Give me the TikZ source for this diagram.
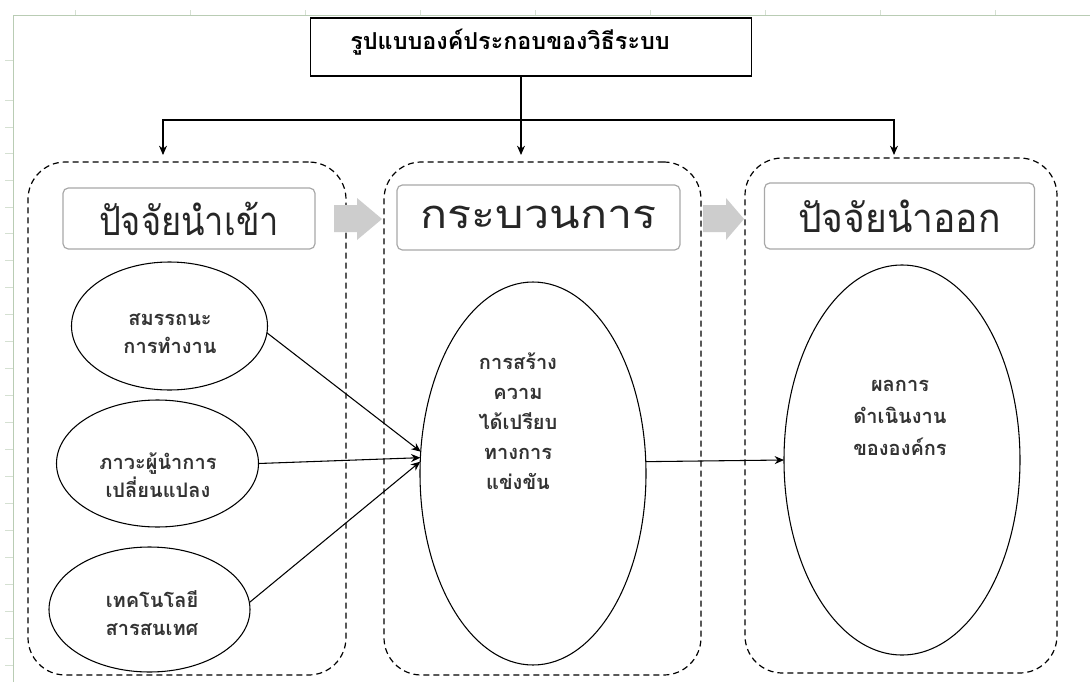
\documentclass[tikz,border=0pt]{standalone}
\usepackage{fontspec}
\newfontfamily\thai[Script=Thai]{Loma}
\usetikzlibrary{shapes.geometric,arrows.meta}
\definecolor{gridc}{HTML}{B9CCB4}
\definecolor{hdrc}{HTML}{A8A8A8}
\definecolor{blockc}{HTML}{CDCDCD}
\definecolor{txtc}{HTML}{333333}
\begin{document}
\begin{tikzpicture}[x=0.75pt,y=-0.75pt,
  every node/.style={font=\thai, inner sep=0pt, outer sep=0pt},
  group/.style={draw, line width=0.9pt, dash pattern=on 4.5pt off 3pt, rounded corners=28pt},
  hdr/.style={draw=hdrc, line width=0.9pt, rounded corners=4pt, text=black!85, font=\thai\fontsize{30}{32}\selectfont},
  oval/.style={draw, ellipse, line width=0.8pt},
  lbl/.style={align=center, text=txtc, font=\thai\bfseries\fontsize{15}{21}\selectfont},
  arr/.style={line width=0.8pt, -{Stealth[length=7pt,width=6pt]}},
  blockarrow/.style={fill=blockc}
]
\useasboundingbox (0,0) rectangle (1090,682);
\fill[white] (0,0) rectangle (1090,682);
% spreadsheet frame
\draw[gridc, line width=0.7pt] (13,682) -- (13,15) -- (1090,15);
\foreach \yy in {60,100,127,153,180,207,233,260,287,314,341,368,395,422,449,476,503,530,557,584,611,638,665}
  \draw[gridc!60, line width=0.5pt] (5,\yy) -- (13,\yy);
\foreach \xx in {75,190,305,420,535,650,765,880,995}
  \draw[gridc!60, line width=0.5pt] (\xx,10) -- (\xx,15);

% title
\node[draw, line width=0.9pt, minimum width=330.75pt, minimum height=43.5pt] (title) at (531,47) {};
\node[font=\thai\bfseries\fontsize{17.5}{19}\selectfont] (titletxt) at (510,42) {รูปแบบองค์ประกอบของวิธีระบบ};

% dashed groups
\node[group, minimum width=238.5pt, minimum height=384.75pt] (g1) at (187,418.5) {};
\node[group, minimum width=237.75pt, minimum height=384.75pt] (g2) at (542.5,418.5) {};
\node[group, minimum width=234pt, minimum height=386.25pt] (g3) at (901,415.5) {};

% top connectors
\coordinate (a1) at (163,155);
\coordinate (a2) at (521,155);
\coordinate (a3) at (894,155);
\coordinate (h) at (521,120);
\draw[arr] (title.south -| a2) -- (a2);
\draw[line width=0.8pt, {Stealth[length=7pt,width=6pt]}-{Stealth[length=7pt,width=6pt]}] (a1) -- (h -| a1) -- (h -| a3) -- (a3);

% headers
\node[hdr, minimum width=189pt, minimum height=45.75pt] (h1) at (189,218.5) {\scalebox{0.86}[1]{ปัจจัยนำเข้า}};
\node[hdr, minimum width=212.25pt, minimum height=48.75pt] (h2) at (538.5,217.5) {\scalebox{1.12}[1]{กระบวนการ}};
\node[hdr, minimum width=202.5pt, minimum height=49.5pt] (h3) at (899.5,216) {\scalebox{0.93}[1]{ปัจจัยนำออก}};

% block arrows
\fill[blockarrow] (334,205) -- (357,205) -- (357,198) -- (382,219) -- (357,240) -- (357,232) -- (334,232) -- cycle;
\fill[blockarrow] (703,205) -- (726,205) -- (726,198) -- (744,219) -- (726,240) -- (726,232) -- (703,232) -- cycle;

% ellipses
\node[oval, minimum width=147pt, minimum height=96pt] (e1) at (169.5,326) {};
\node[oval, minimum width=151.5pt, minimum height=95.25pt] (e2) at (157.5,463.5) {};
\node[oval, minimum width=150.75pt, minimum height=93.75pt] (e3) at (149.5,609.5) {};
\node[oval, minimum width=169.5pt, minimum height=287.25pt] (em) at (533,473.5) {};
\node[oval, minimum width=177pt, minimum height=292.5pt] (eo) at (902,460) {};

% labels
\node[lbl] (l1) at (170,334) {สมรรถนะ\\การทำงาน};
\node[lbl] (l2) at (158,475) {ภาวะผู้นำการ\\เปลี่ยนแปลง};
\node[lbl] (l3) at (152,613) {เทคโนโลยี\\สารสนเทศ};
\node[lbl, font=\thai\bfseries\fontsize{15}{22.5}\selectfont] (lm) at (518,421) {การสร้าง\\ความ\\ได้เปรียบ\\ทางการ\\แข่งขัน};
\node[lbl, font=\thai\bfseries\fontsize{15}{24}\selectfont] (lo) at (900,418) {ผลการ\\ดำเนินงาน\\ขององค์กร};

% connectors
\draw[arr] (e1.-4) -- (em.169);
\draw[arr] (e2.east) -- (em.172);
\draw[arr] (e3.4.4) -- (em.174.6);
\draw[arr] (em.6.8) -- (eo.west);
\end{tikzpicture}
\end{document}
